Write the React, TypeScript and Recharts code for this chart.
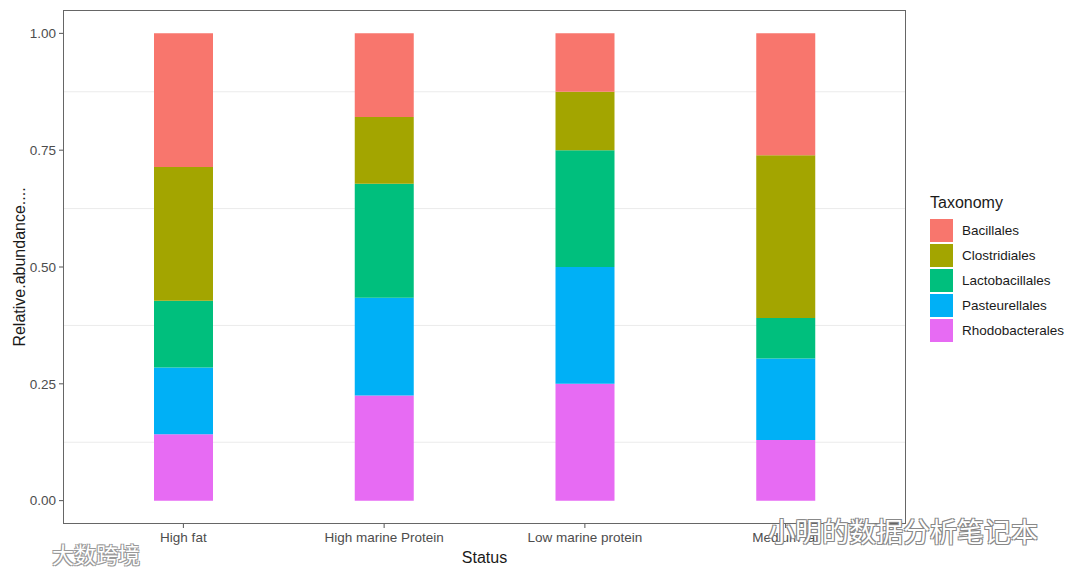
import { BarChart, Bar, XAxis, YAxis, CartesianGrid } from 'recharts';

const statuses = ['High fat', 'High marine Protein', 'Low marine protein', 'Medium fat'];
const bacillales = [0.286, 0.179, 0.125, 0.261];
const clostridiales = [0.286, 0.143, 0.125, 0.348];
const lactobacillales = [0.143, 0.244, 0.25, 0.087];
const pasteurellales = [0.143, 0.209, 0.25, 0.174];
const rhodobacterales = [0.142, 0.225, 0.25, 0.13];

const yTicks = [0, 0.25, 0.5, 0.75, 1];
const minorGrid = [0.125, 0.375, 0.625, 0.875];

// legend order top -> bottom, stack order is the reverse
const taxa = [
  { key: 'Bacillales', color: '#F8766D' },
  { key: 'Clostridiales', color: '#A3A500' },
  { key: 'Lactobacillales', color: '#00BF7D' },
  { key: 'Pasteurellales', color: '#00B0F6' },
  { key: 'Rhodobacterales', color: '#E76BF3' },
];

const data = statuses.map((s, i) => ({
  status: s,
  Bacillales: bacillales[i],
  Clostridiales: clostridiales[i],
  Lactobacillales: lactobacillales[i],
  Pasteurellales: pasteurellales[i],
  Rhodobacterales: rhodobacterales[i],
}));

const FONT = '"Liberation Sans", Arial, sans-serif';
const CJK = '"Noto Sans CJK SC", sans-serif';

function TaxLegend() {
  return (
    <div style={{ position: 'absolute', left: 927, top: 190, fontFamily: FONT }}>
      <div style={{ fontSize: 16, color: '#1a1a1a', height: 25, lineHeight: '20px' }}>Taxonomy</div>
      {taxa.map((t) => (
        <div key={t.key} style={{ display: 'flex', alignItems: 'center', height: 25 }}>
          <div style={{ width: 23, height: 23, background: t.color }} />
          <span style={{ marginLeft: 9, fontSize: 13.5, color: '#1a1a1a' }}>{t.key}</span>
        </div>
      ))}
    </div>
  );
}

export default function App() {
  return (
    <div style={{ position: 'relative', width: 1080, height: 577, margin: -8, background: '#2d3e50' }}>
      <div style={{ position: 'absolute', left: 3, top: 3, width: 1077, height: 570, background: '#fff' }}>
        <BarChart
          width={1077}
          height={570}
          data={data}
          margin={{ top: 7, right: 174, left: 15, bottom: 9 }}
          barSize={59}
        >
          <CartesianGrid vertical={false} horizontalValues={minorGrid} stroke="#ebebeb" />
          <XAxis
            dataKey="status"
            padding={{ left: 20, right: 20 }}
            axisLine={false}
            tickSize={4}
            tickMargin={4}
            tickLine={{ stroke: '#555' }}
            tick={{ fontSize: 13.5, fill: '#4d4d4d', fontFamily: FONT }}
            height={40}
            interval={0}
            label={{ value: 'Status', position: 'insideBottom', offset: 1, fontSize: 16, fill: '#1a1a1a', fontFamily: FONT }}
          />
          <YAxis
            width={45}
            domain={[-0.05, 1.05]}
            ticks={yTicks}
            allowDataOverflow
            axisLine={false}
            tickSize={4}
            tickMargin={3}
            tickLine={{ stroke: '#555' }}
            tick={{ fontSize: 13.5, fill: '#4d4d4d', fontFamily: FONT }}
            tickFormatter={(v: number) => v.toFixed(2)}
            label={(props: any) => {
              const vb = props.viewBox || {};
              const x = (vb.x ?? 15) + 1;
              const y = (vb.y ?? 7) + (vb.height ?? 514) / 2;
              return (
                <text
                  x={x}
                  y={y}
                  transform={`rotate(-90 ${x} ${y})`}
                  textAnchor="middle"
                  dominantBaseline="central"
                  fontSize={16}
                  fill="#1a1a1a"
                  fontFamily={FONT}
                >
                  Relative.abundance....
                </text>
              );
            }}
          />
          {[...taxa].reverse().map((t) => (
            <Bar key={t.key} dataKey={t.key} stackId="a" fill={t.color} isAnimationActive={false} />
          ))}
        </BarChart>
        <TaxLegend />
        {/* panel border */}
        <div
          style={{
            position: 'absolute',
            left: 60,
            top: 7,
            width: 843,
            height: 514,
            border: '1px solid #666',
            boxSizing: 'border-box',
            pointerEvents: 'none',
          }}
        />
      </div>
      {/* watermarks */}
      <div
        style={{
          position: 'absolute',
          left: 768,
          top: 511,
          fontSize: 27,
          fontFamily: CJK,
          color: '#fff',
          textShadow: '1px 1px 0 #888, -1px -1px 0 #888, 1px -1px 0 #888, -1px 1px 0 #888',
          whiteSpace: 'nowrap',
        }}
      >
        小明的数据分析笔记本
      </div>
      <div
        style={{
          position: 'absolute',
          left: 52,
          top: 537,
          fontSize: 22,
          fontFamily: CJK,
          color: '#fff',
          textShadow: '1px 1px 0 #999, -1px -1px 0 #999, 1px -1px 0 #999, -1px 1px 0 #999',
          whiteSpace: 'nowrap',
        }}
      >
        大数跨境
      </div>
    </div>
  );
}
